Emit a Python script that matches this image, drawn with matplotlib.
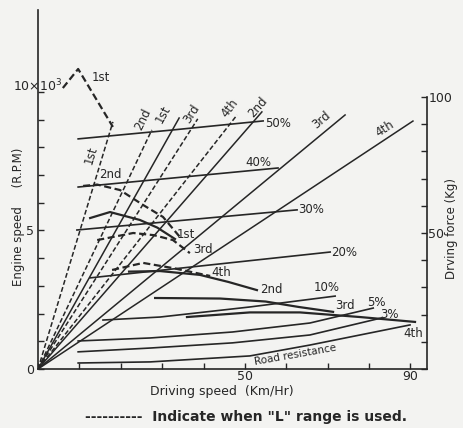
import matplotlib
matplotlib.use('Agg')
import matplotlib.pyplot as plt

# engine speed lines (x10^3 rpm) from origin: end speed km/h, end rpm
ray_names = ['1st', '2nd', '1st', '3rd', '4th', '2nd', '3rd', '4th']
ray_dashed = [True, True, False, True, True, False, False, False]
ray_end_speed = [18.1, 27.5, 34.1, 38.6, 48.1, 54.1, 74.2, 90.6]
ray_end_rpm = [8.92, 8.63, 9.06, 9.03, 9.17, 9.28, 9.17, 8.95]

# driving force curves per gear (kg)
L1_x = [6.0, 9.7, 18.1]
L1_y = [103.3, 110.3, 89.0]
L2_x = [10.9, 14.3, 19.8, 25.4, 30.2, 34.3]
L2_y = [67.3, 67.8, 65.8, 60.3, 55.9, 48.5]
L3_x = [14.3, 23.0, 28.0, 32.6, 36.7]
L3_y = [47.4, 50.0, 49.2, 47.4, 42.6]
L4_x = [17.9, 25.4, 32.6, 41.6]
L4_y = [36.4, 39.0, 37.1, 34.2]
D1_x = [12.6, 17.4, 24.6, 28.8, 33.1]
D1_y = [55.5, 57.7, 54.8, 52.0, 47.8]
D2_x = [22.0, 29.5, 39.1, 46.0, 52.9]
D2_y = [35.8, 36.0, 34.6, 32.0, 29.0]
D3_x = [28.3, 44.0, 55.0, 63.0, 71.3]
D3_y = [26.1, 25.9, 24.8, 22.8, 21.0]
D4_x = [36.0, 51.2, 63.3, 77.8, 91.1]
D4_y = [19.1, 20.8, 20.8, 19.1, 17.3]

# running resistance per grade (kg)
g50_x = [9.7, 32.0, 54.4]
g50_y = [84.6, 87.8, 91.2]
g40_x = [9.7, 58.0]
g40_y = [66.9, 73.9]
g30_x = [9.4, 62.6]
g30_y = [51.1, 58.5]
g20_x = [12.6, 70.6]
g20_y = [33.5, 43.0]
g10_x = [15.7, 29.5, 51.2, 71.8]
g10_y = [18.0, 19.1, 22.8, 26.8]
g5_x = [9.7, 27.1, 47.0, 65.7, 81.0]
g5_y = [10.3, 11.4, 13.6, 16.9, 22.4]
g3_x = [9.7, 27.1, 47.0, 65.7, 83.1]
g3_y = [6.3, 7.7, 9.6, 12.5, 18.8]
road_x = [9.7, 27.1, 51.2, 65.7, 89.9]
road_y = [2.2, 2.6, 4.8, 8.8, 16.2]

ink = '#262626'
dash = (0, (3.2, 1.6))
fs = 8.5

fig = plt.figure(figsize=(4.64, 4.28), dpi=100, facecolor='#f3f3f1')
ax = fig.add_axes([0.0819, 0.1379, 0.8384, 0.8388])
ax.set_facecolor('none')
ax.set_xlim(0, 94)
ax.set_ylim(0, 12.96)
ax2 = ax.twinx()
ax2.set_ylim(0, 132.0)

for a in (ax, ax2):
    a.spines['top'].set_visible(False)
ax.spines['right'].set_visible(False)
ax2.spines['left'].set_visible(False)
ax2.spines['bottom'].set_visible(False)
ax2.spines['right'].set_bounds(0, 100)
for s in ('left', 'bottom'):
    ax.spines[s].set_color(ink)
    ax.spines[s].set_linewidth(1.2)
ax2.spines['right'].set_color(ink)
ax2.spines['right'].set_linewidth(1.2)

ax.set_xticks(range(0, 91, 10))
ax.set_xticklabels(['' if v not in (50, 90) else str(v) for v in range(0, 91, 10)])
ax.set_yticks(range(0, 11))
ax.set_yticklabels(['0', '', '', '', '', '5', '', '', '', '', ''])
ax2.set_yticks(range(0, 101, 10))
ax2.set_yticklabels(['' if v not in (50, 100) else str(v) for v in range(0, 101, 10)])
ax.tick_params(direction='in', length=4, width=1, colors=ink, labelsize=fs + 0.5, pad=3)
ax.tick_params(axis='x', pad=1)
ax2.tick_params(direction='in', length=4, width=1, colors=ink, labelsize=fs + 0.5, pad=1)
ax.text(0, 10.2, '10×10$^3$', ha='center', va='center', fontsize=fs + 0.5, color=ink)

# engine speed rays
for n, d, xe, ye in zip(ray_names, ray_dashed, ray_end_speed, ray_end_rpm):
    ax.plot([0, xe], [0, ye], color=ink, lw=1.1, linestyle=dash if d else '-')

ray_lab = [(12.8, 7.73, 73), (25.3, 9.0, 64), (30.2, 9.2, 61), (37.0, 9.2, 57),
           (46.4, 9.42, 52), (53.2, 9.45, 49), (68.6, 9.0, 40), (83.9, 8.66, 33)]
for n, (lx, ly, r) in zip(ray_names, ray_lab):
    ax.text(lx, ly, n, rotation=r, ha='center', va='center', fontsize=fs, color=ink)

# gear driving force curves
for xs, ys in [(L1_x, L1_y), (L2_x, L2_y), (L3_x, L3_y), (L4_x, L4_y)]:
    ax2.plot(xs, ys, color=ink, lw=1.6, linestyle=dash)
for xs, ys in [(D1_x, D1_y), (D2_x, D2_y), (D3_x, D3_y), (D4_x, D4_y)]:
    ax2.plot(xs, ys, color=ink, lw=1.6)

# grade lines
for xs, ys in [(g50_x, g50_y), (g40_x, g40_y), (g30_x, g30_y), (g20_x, g20_y),
               (g10_x, g10_y), (g5_x, g5_y), (g3_x, g3_y), (road_x, road_y)]:
    ax2.plot(xs, ys, color=ink, lw=1.2)

labels = [('1st', 13.0, 107, 'left'), ('2nd', 17.6, 71.5, 'center'),
          ('50%', 54.9, 90.1, 'left'), ('40%', 53.2, 76.0, 'center'),
          ('30%', 62.8, 58.5, 'left'), ('20%', 70.8, 43.0, 'left'),
          ('1st', 33.6, 49.6, 'left'), ('3rd', 37.5, 44.1, 'left'),
          ('4th', 42.0, 35.3, 'left'), ('2nd', 53.6, 29.4, 'left'),
          ('10%', 66.5, 29.8, 'left'), ('3rd', 71.8, 23.5, 'left'),
          ('5%', 79.5, 24.6, 'left'), ('3%', 82.6, 20.2, 'left'),
          ('4th', 88.2, 13.2, 'left')]
for t, lx, ly, ha in labels:
    ax2.text(lx, ly, t, ha=ha, va='center', fontsize=fs, color=ink)
ax2.text(62.1, 5.3, 'Road resistance', rotation=10, ha='center', va='center',
         fontsize=fs - 1, color=ink)

fig.text(0.478, 0.086, 'Driving speed  (Km/Hr)', ha='center', va='center', fontsize=fs + 0.5, color=ink)
fig.text(0.039, 0.493, 'Engine speed     (R.P.M)', rotation=90, ha='center', va='center',
         fontsize=fs, color=ink)
fig.text(0.972, 0.465, 'Drving force (Kg)', rotation=90, ha='center', va='center',
         fontsize=fs, color=ink)
fig.text(0.53, 0.026, '----------  Indicate when "L" range is used.', ha='center', va='center',
         fontsize=fs + 1.5, fontweight='bold', color=ink)

fig.savefig('out.png', dpi=100, facecolor=fig.get_facecolor())
